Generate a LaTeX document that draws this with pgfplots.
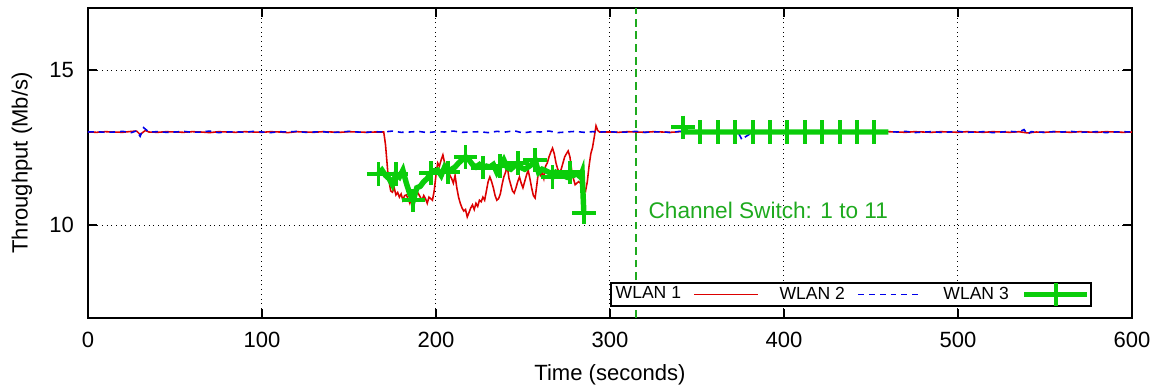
\documentclass[border=0pt]{standalone}
\usepackage{pgfplots}
\pgfplotsset{compat=1.18}
\usepackage{pgfplotstable}
\usepackage{fontspec}
\setmainfont{Liberation Sans}
\definecolor{wred}{RGB}{220,0,0}
\definecolor{wblue}{RGB}{0,0,235}
\definecolor{wgreen}{RGB}{10,205,10}
\definecolor{sgreen}{RGB}{30,170,30}

\pgfplotstableread{
x y
0 13.00
5 12.99
10 13.01
15 13.00
20 12.99
25 13.02
28 13.03
30 12.92
33 13.05
35 13.00
40 12.99
45 13.01
50 13.00
55 12.99
60 13.01
65 13.00
70 12.98
75 13.01
80 13.00
85 12.99
90 13.01
95 13.00
100 12.99
105 13.01
110 13.00
115 12.98
120 13.01
125 13.00
130 12.99
135 13.01
140 13.00
145 12.99
150 13.01
155 13.00
160 12.99
165 13.00
170 13.00
171 12.60
172.5 11.60
174 11.10
175 11.06
176 11.20
177 10.97
178 11.05
179 10.90
180 11.00
181 10.80
182 10.95
183 10.97
184 10.85
185 10.70
186 10.90
187 11.00
188 10.85
189 11.10
190 11.00
191 10.90
192 10.80
193 10.95
194 10.85
195 10.70
196 10.90
197 10.85
198 10.80
199 11.10
200 11.60
201 12.00
202 11.90
203 12.10
204 12.26
205 12.00
206 11.80
207 11.90
208 11.60
209 11.50
210 11.35
211 11.60
212 11.20
213 10.90
214 10.70
215 10.55
216 10.45
217 10.50
218 10.26
219 10.40
220 10.55
221 10.65
222 10.50
223 10.70
224 10.60
225 10.80
226 10.75
227 10.90
228 10.80
229 11.10
230 11.40
231 11.55
232 11.40
233 11.20
234 10.95
235 10.80
236 10.85
237 11.00
238 11.30
239 11.55
240 11.70
241 11.90
242 11.50
243 11.30
244 11.10
245 11.03
246 11.20
247 11.40
248 11.55
249 11.35
250 11.20
251 11.40
252 11.60
253 11.77
254 11.50
255 11.20
256 10.95
257 10.87
258 11.30
259 11.77
260 11.60
261 11.70
262 11.50
263 11.90
264 12.00
265 12.20
266 12.35
267 12.48
268 12.30
269 12.00
270 11.80
271 11.70
272 11.80
273 12.00
274 12.20
275 12.30
276 12.39
277 12.20
278 11.77
279 11.50
280 11.30
281 11.35
282 11.40
283 11.35
284 11.30
285 11.20
286 11.10
287 11.40
288 11.90
289 12.30
290 12.50
291 12.84
292 13.20
293 13.05
294 13.00
300 13.00
305 12.99
310 13.01
315 13.00
320 12.99
325 13.01
330 13.00
335 12.99
340 13.01
350 13.00
360 12.99
370 13.01
380 13.00
390 12.99
400 13.01
410 13.00
420 12.99
430 13.01
440 13.00
450 12.99
460 13.01
465 13.00
470 12.99
475 13.01
480 13.00
485 12.99
490 13.01
495 13.00
500 12.99
505 13.01
510 13.00
515 12.99
520 13.01
525 13.00
530 12.99
535 13.01
540 12.97
545 13.00
550 12.99
555 13.01
560 13.00
565 12.99
570 13.01
575 13.00
580 12.99
585 13.01
590 13.00
595 12.99
600 13.00
}\wlanone

\pgfplotstableread{
x y
0 13.00
5 13.01
10 12.99
15 13.00
20 13.02
25 12.98
28 13.04
30 12.86
32 13.14
35 13.00
40 13.01
45 12.99
50 13.00
55 13.02
60 12.99
65 13.00
70 13.03
75 12.98
80 13.00
85 13.01
90 12.99
95 13.02
100 13.00
105 12.98
110 13.01
115 13.00
120 13.02
125 12.99
130 13.00
135 13.01
140 12.98
145 13.00
150 13.02
155 13.00
160 12.99
165 13.01
170 13.00
175 13.03
180 12.99
185 13.00
190 13.02
195 12.98
200 13.01
205 13.00
210 13.03
215 12.99
220 13.00
225 13.01
230 12.98
235 13.02
240 13.00
245 13.04
250 12.97
255 13.01
260 13.00
265 13.03
270 12.98
275 13.00
280 13.02
285 12.99
290 13.01
295 13.00
300 13.01
305 12.99
310 13.00
315 13.02
320 12.99
325 13.00
330 13.01
335 12.98
340 13.02
345 13.00
350 12.99
355 13.01
360 13.00
365 13.02
370 12.98
374 12.95
376 12.74
378 12.85
380 12.92
382 13.00
385 13.01
390 12.99
395 13.00
400 13.02
405 12.99
410 13.00
415 13.01
420 12.98
425 13.00
430 13.02
435 13.00
440 12.99
445 13.01
450 13.00
455 12.99
460 13.01
465 13.00
470 13.02
475 12.98
480 13.00
485 13.01
490 12.99
495 13.00
500 13.02
505 12.99
510 13.00
515 13.01
520 12.98
525 13.00
530 13.02
535 13.00
538 13.08
540 12.92
542 13.01
545 13.00
550 12.99
555 13.01
560 13.00
565 13.02
570 12.99
575 13.00
580 13.01
585 12.98
590 13.00
595 13.01
600 13.00
}\wlantwo

\pgfplotstableread{
x y
167 11.65
169 11.77
171 11.60
173 11.50
175 11.30
177 11.65
179 11.55
181 11.77
183 11.35
185 11.00
187 10.80
189 11.20
191 11.25
193 11.40
195 11.50
197 11.68
199 11.75
201 11.77
203 11.60
205 11.87
207 11.70
209 11.80
211 11.87
213 12.00
215 12.10
217 12.20
219 12.10
221 11.95
223 11.87
225 11.95
227 11.85
229 11.90
231 11.87
233 11.95
235 11.70
237 11.90
239 12.10
241 11.85
243 11.80
245 11.90
247 12.00
249 11.85
251 11.80
253 11.87
255 11.95
257 12.10
259 11.70
261 11.80
263 11.75
265 11.70
267 11.55
269 11.70
271 11.65
273 11.60
275 11.55
277 11.70
279 11.60
281 11.65
283 11.55
284 11.70
285 10.40
}\wlanthreea

\pgfplotstableread{
x y
342 13.15
344 13.00
346 13.00
348 13.00
350 13.00
352 13.00
354 13.00
356 13.00
358 13.00
360 13.00
362 13.00
364 13.00
366 13.00
368 13.00
370 13.00
372 13.00
374 13.00
376 13.00
378 13.00
380 13.00
382 13.00
384 13.00
386 13.00
388 13.00
390 13.00
392 13.00
394 13.00
396 13.00
398 13.00
400 13.00
402 13.00
404 13.00
406 13.00
408 13.00
410 13.00
412 13.00
414 13.00
416 13.00
418 13.00
420 13.00
422 13.00
424 13.00
426 13.00
428 13.00
430 13.00
432 13.00
434 13.00
436 13.00
438 13.00
440 13.00
442 13.00
444 13.00
446 13.00
448 13.00
450 13.00
452 13.00
454 13.00
456 13.00
458 13.00
460 13.00
}\wlanthreeb

\begin{document}
\fontsize{11.3pt}{13.6pt}\selectfont
\begin{tikzpicture}
\begin{axis}[
  scale only axis, width=535.4pt, height=159pt,
  xmin=0, xmax=600, ymin=7, ymax=17,
  xtick={0,100,...,600}, ytick={10,15},
  tick align=inside, major tick length=4.6pt,
  axis line style={line width=0.9pt},
  every tick/.style={black, line width=0.8pt},
  grid=major, major grid style={black, dotted, line width=0.5pt},
  /pgf/number format/assume math mode=true,
  xticklabel shift=3.2pt, yticklabel shift=3.2pt,
  xlabel={Time (seconds)}, ylabel={Throughput (Mb/s)},
  every axis x label/.style={at={(rel axis cs:0.5,0)}, yshift=-29.2pt, anchor=center},
  every axis y label/.style={at={(rel axis cs:0,0.5)}, xshift=-33.8pt, rotate=90, anchor=center},
  legend plot pos=right,
  legend columns=3,
  legend image code/.code={\draw[mark repeat=2,mark phase=2,#1] plot coordinates {(0cm,0cm) (0.57cm,0cm) (1.14cm,0cm)};},
  legend style={at={(rel axis cs:0.9617,0.0355)}, anchor=south east, draw=black, line width=0.8pt,
    font=\fontsize{9pt}{10.8pt}\selectfont,
    /tikz/every odd column/.append style={column sep=4.5pt},
    /tikz/every even column/.append style={column sep=8.8pt},
    inner xsep=0.5pt, inner ysep=0pt},
  legend cell align=left,
]
\addplot[wred, line width=0.8pt, no marks] table {\wlanone};
\addlegendentry{WLAN 1}
\addplot[wblue, line width=0.8pt, no marks, dash pattern=on 3pt off 2.5pt] table {\wlantwo};
\addlegendentry{WLAN 2}
\addplot[wgreen, line width=2.8pt, mark=+, mark size=6pt, mark repeat=5, mark options={line width=2pt, solid}] table {\wlanthreea};
\addlegendentry{WLAN 3}
\addplot[wgreen, line width=2.8pt, mark=+, mark size=6pt, mark repeat=5, mark options={line width=2pt, solid}, forget plot] table {\wlanthreeb};
\addplot[sgreen, line width=1.2pt, dash pattern=on 4pt off 2.5pt, forget plot] coordinates {(315,7) (315,17)};
\node[anchor=west, text=sgreen, inner sep=0pt, font=\fontsize{11.6pt}{14pt}\selectfont] at (axis cs:322,10.48) {Channel Switch: 1 to 11};
\coordinate (SW) at (rel axis cs:0,0);
\coordinate (NE) at (rel axis cs:1,1);
\end{axis}
\pgfresetboundingbox
\path[use as bounding box] ([shift={(-45.1pt,-36.4pt)}]SW) rectangle ([shift={(14.4pt,4.1pt)}]NE);
\end{tikzpicture}
\end{document}
